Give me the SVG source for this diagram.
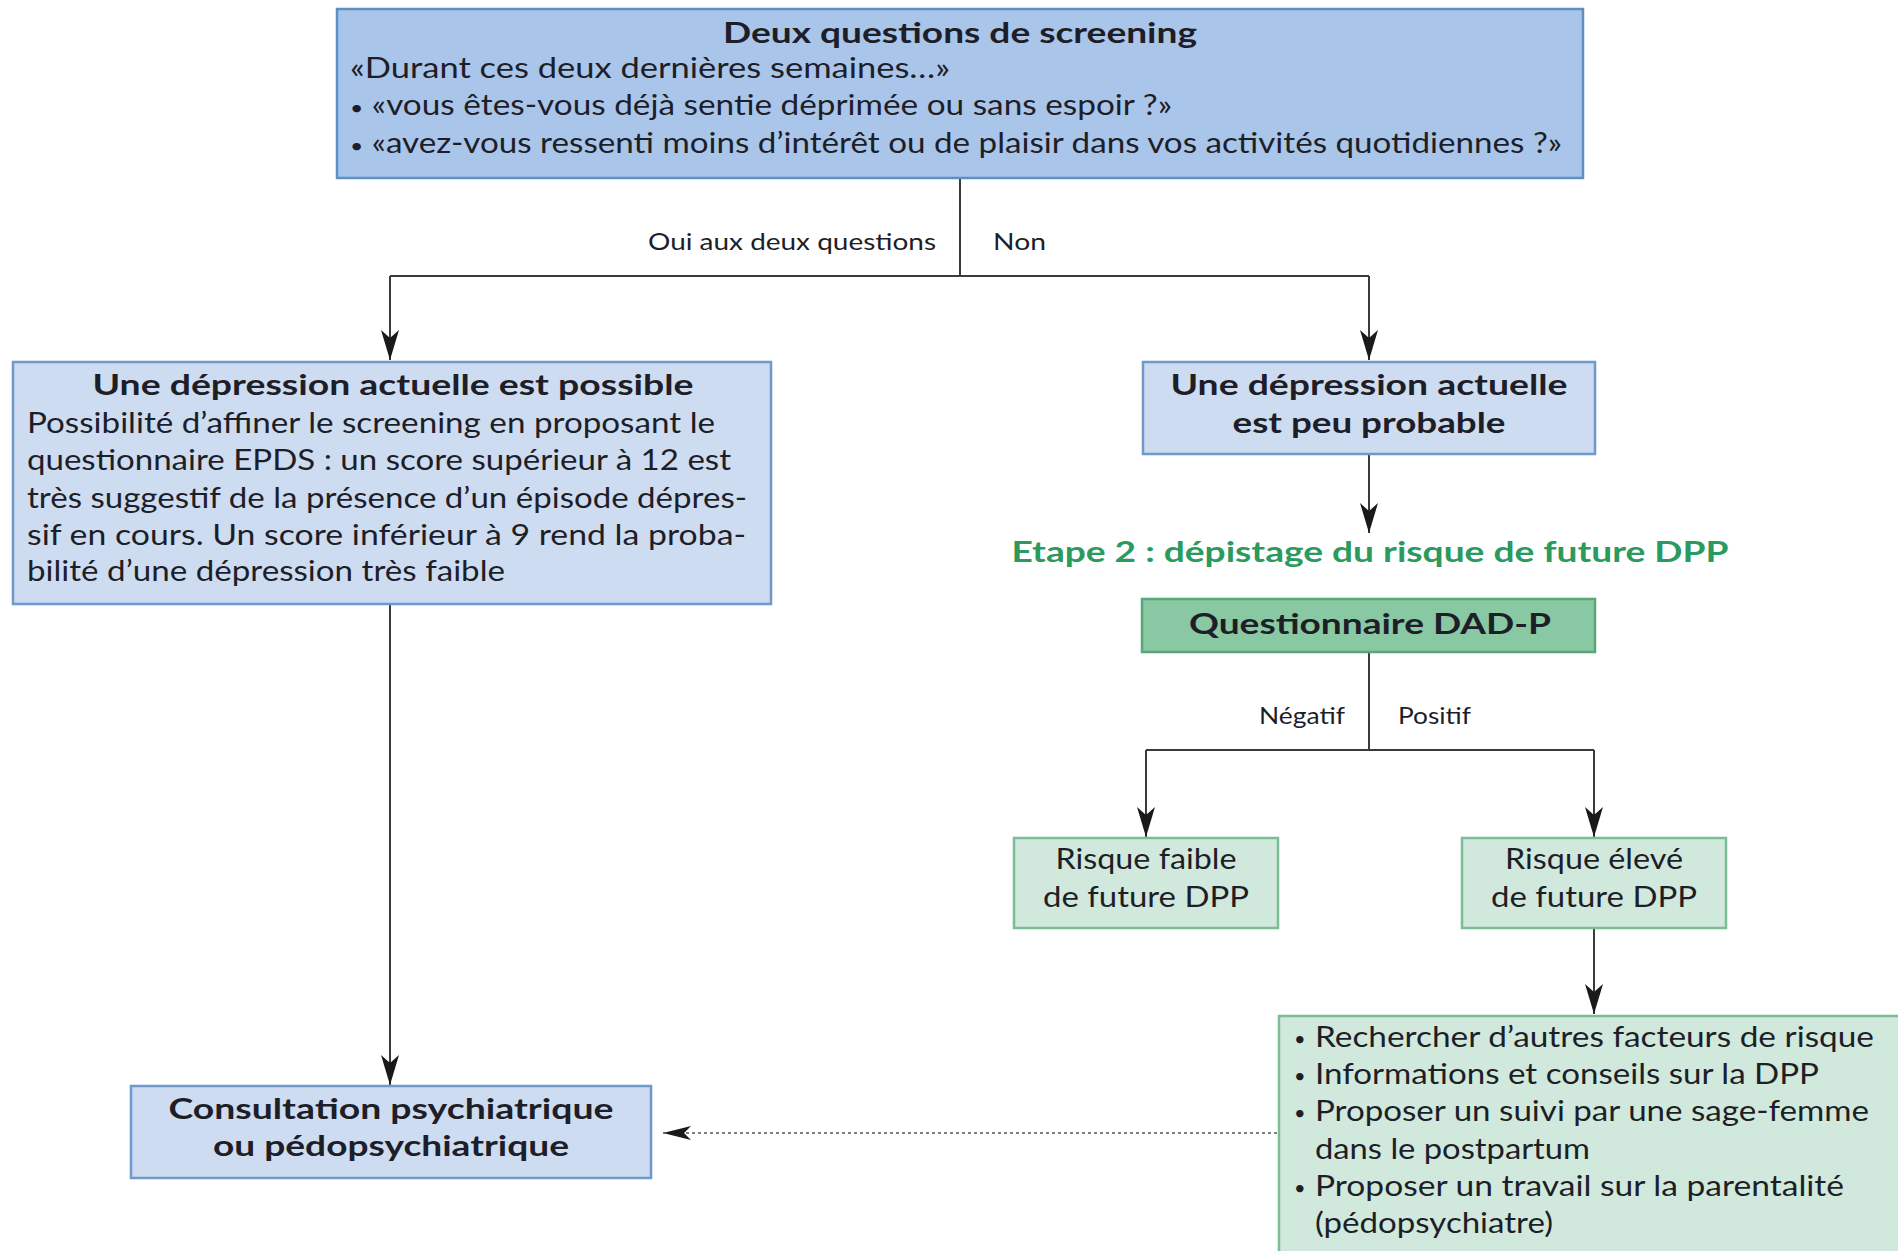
<svg xmlns="http://www.w3.org/2000/svg" width="1898" height="1251" viewBox="0 0 1898 1251">
<defs>
<style>
text{font-family:Lato,"Open Sans","Liberation Sans",sans-serif;fill:#1e1e28;}
.b{font-weight:bold;}
.t{font-size:29px;}
.s{font-size:23px;}
.c{text-anchor:middle;}
.e{text-anchor:end;}
.g{fill:#2a9a5e;}
.bu{font-size:20px;}
.blueA{fill:#a9c5ea;stroke:#5d8ec4;stroke-width:2.5;}
.blueB{fill:#cddcf1;stroke:#6f99c9;stroke-width:2.5;}
.greenA{fill:#88c8a2;stroke:#5aa57a;stroke-width:2.5;}
.greenB{fill:#d0e9dc;stroke:#7bbd95;stroke-width:2.5;}
.ln{fill:none;stroke:#3a3a3a;stroke-width:2;}
.dot{fill:none;stroke:#555;stroke-width:1.5;stroke-dasharray:3 3;}
</style>
<marker id="ah" viewBox="0 0 30 18" refX="30" refY="9" markerWidth="30" markerHeight="18" markerUnits="userSpaceOnUse" orient="auto">
<path d="M0,0 L30,9 L0,18 L8,9 Z" fill="#1a1a1a"/>
</marker>
<marker id="ah2" viewBox="0 0 28 14" refX="28" refY="7" markerWidth="28" markerHeight="14" markerUnits="userSpaceOnUse" orient="auto">
<path d="M0,0 L28,7 L0,14 L7,7 Z" fill="#1a1a1a"/>
</marker>
</defs>
<rect width="1898" height="1251" fill="#ffffff"/>

<g id="connectors">
<path class="ln" d="M960,178 V276 M390,276 H1369"/>
<path class="ln" d="M390,276 V360" marker-end="url(#ah)"/>
<path class="ln" d="M1369,276 V360" marker-end="url(#ah)"/>
<path class="ln" d="M1369,454 V533" marker-end="url(#ah)"/>
<path class="ln" d="M1369,651 V750 M1146,750 H1594"/>
<path class="ln" d="M1146,750 V837" marker-end="url(#ah)"/>
<path class="ln" d="M1594,750 V837" marker-end="url(#ah)"/>
<path class="ln" d="M1594,928 V1014" marker-end="url(#ah)"/>
<path class="ln" d="M390,604 V1085" marker-end="url(#ah)"/>
<path class="dot" d="M1277,1133 H663" marker-end="url(#ah2)"/>
<text class="s e" x="936" y="250" textLength="288" lengthAdjust="spacingAndGlyphs">Oui aux deux questions</text>
<text class="s" x="993" y="250" textLength="53" lengthAdjust="spacingAndGlyphs">Non</text>
<text class="s e" x="1345" y="724" textLength="86" lengthAdjust="spacingAndGlyphs">Négatif</text>
<text class="s" x="1398" y="724" textLength="73" lengthAdjust="spacingAndGlyphs">Positif</text>
</g>

<g id="n-screening">
<rect class="blueA" x="337" y="9" width="1246" height="169"/>
<text class="t b c" x="960" y="43" textLength="474" lengthAdjust="spacingAndGlyphs">Deux questions de screening</text>
<text class="t" x="350" y="78" textLength="600" lengthAdjust="spacingAndGlyphs">«Durant ces deux dernières semaines…»</text>
<text class="t" x="350" y="115" textLength="822" lengthAdjust="spacingAndGlyphs"><tspan class="bu">•</tspan> «vous êtes-vous déjà sentie déprimée ou sans espoir ?»</text>
<text class="t" x="350" y="153" textLength="1212" lengthAdjust="spacingAndGlyphs"><tspan class="bu">•</tspan> «avez-vous ressenti moins d’intérêt ou de plaisir dans vos activités quotidiennes ?»</text>
</g>

<g id="n-possible">
<rect class="blueB" x="13" y="362" width="758" height="242"/>
<text class="t b c" x="393" y="395" textLength="601" lengthAdjust="spacingAndGlyphs">Une dépression actuelle est possible</text>
<text class="t" x="27" y="433" textLength="688" lengthAdjust="spacingAndGlyphs">Possibilité d’affiner le screening en proposant le</text>
<text class="t" x="27" y="470" textLength="704" lengthAdjust="spacingAndGlyphs">questionnaire EPDS : un score supérieur à 12 est</text>
<text class="t" x="27" y="508" textLength="720" lengthAdjust="spacingAndGlyphs">très suggestif de la présence d’un épisode dépres-</text>
<text class="t" x="27" y="545" textLength="719" lengthAdjust="spacingAndGlyphs">sif en cours. Un score inférieur à 9 rend la proba-</text>
<text class="t" x="27" y="581" textLength="478" lengthAdjust="spacingAndGlyphs">bilité d’une dépression très faible</text>
</g>

<g id="n-peu-probable">
<rect class="blueB" x="1143" y="362" width="452" height="92"/>
<text class="t b c" x="1369" y="395" textLength="397" lengthAdjust="spacingAndGlyphs">Une dépression actuelle</text>
<text class="t b c" x="1369" y="433" textLength="273" lengthAdjust="spacingAndGlyphs">est peu probable</text>
</g>

<g id="n-etape2">
<text class="t b c g" x="1370" y="562" textLength="717" lengthAdjust="spacingAndGlyphs">Etape 2 : dépistage du risque de future DPP</text>
</g>

<g id="n-dadp">
<rect class="greenA" x="1142" y="599" width="453" height="53"/>
<text class="t b c" x="1370" y="634" textLength="362" lengthAdjust="spacingAndGlyphs">Questionnaire DAD-P</text>
</g>

<g id="n-faible">
<rect class="greenB" x="1014" y="838" width="264" height="90"/>
<text class="t c" x="1146" y="869" textLength="181" lengthAdjust="spacingAndGlyphs">Risque faible</text>
<text class="t c" x="1146" y="907" textLength="206" lengthAdjust="spacingAndGlyphs">de future DPP</text>
</g>

<g id="n-eleve">
<rect class="greenB" x="1462" y="838" width="264" height="90"/>
<text class="t c" x="1594" y="869" textLength="178" lengthAdjust="spacingAndGlyphs">Risque élevé</text>
<text class="t c" x="1594" y="907" textLength="206" lengthAdjust="spacingAndGlyphs">de future DPP</text>
</g>

<g id="n-actions">
<rect class="greenB" x="1279" y="1016" width="640" height="260"/>
<text class="bu" x="1294" y="1046">•</text>
<text class="t" x="1315" y="1047" textLength="559" lengthAdjust="spacingAndGlyphs">Rechercher d’autres facteurs de risque</text>
<text class="bu" x="1294" y="1083">•</text>
<text class="t" x="1315" y="1084" textLength="504" lengthAdjust="spacingAndGlyphs">Informations et conseils sur la DPP</text>
<text class="bu" x="1294" y="1120">•</text>
<text class="t" x="1315" y="1121" textLength="554" lengthAdjust="spacingAndGlyphs">Proposer un suivi par une sage-femme</text>
<text class="t" x="1315" y="1159" textLength="275" lengthAdjust="spacingAndGlyphs">dans le postpartum</text>
<text class="bu" x="1294" y="1195">•</text>
<text class="t" x="1315" y="1196" textLength="529" lengthAdjust="spacingAndGlyphs">Proposer un travail sur la parentalité</text>
<text class="t" x="1315" y="1233" textLength="238" lengthAdjust="spacingAndGlyphs">(pédopsychiatre)</text>
</g>

<g id="n-consultation">
<rect class="blueB" x="131" y="1086" width="520" height="92"/>
<text class="t b c" x="391" y="1119" textLength="445" lengthAdjust="spacingAndGlyphs">Consultation psychiatrique</text>
<text class="t b c" x="391" y="1156" textLength="356" lengthAdjust="spacingAndGlyphs">ou pédopsychiatrique</text>
</g>
</svg>
